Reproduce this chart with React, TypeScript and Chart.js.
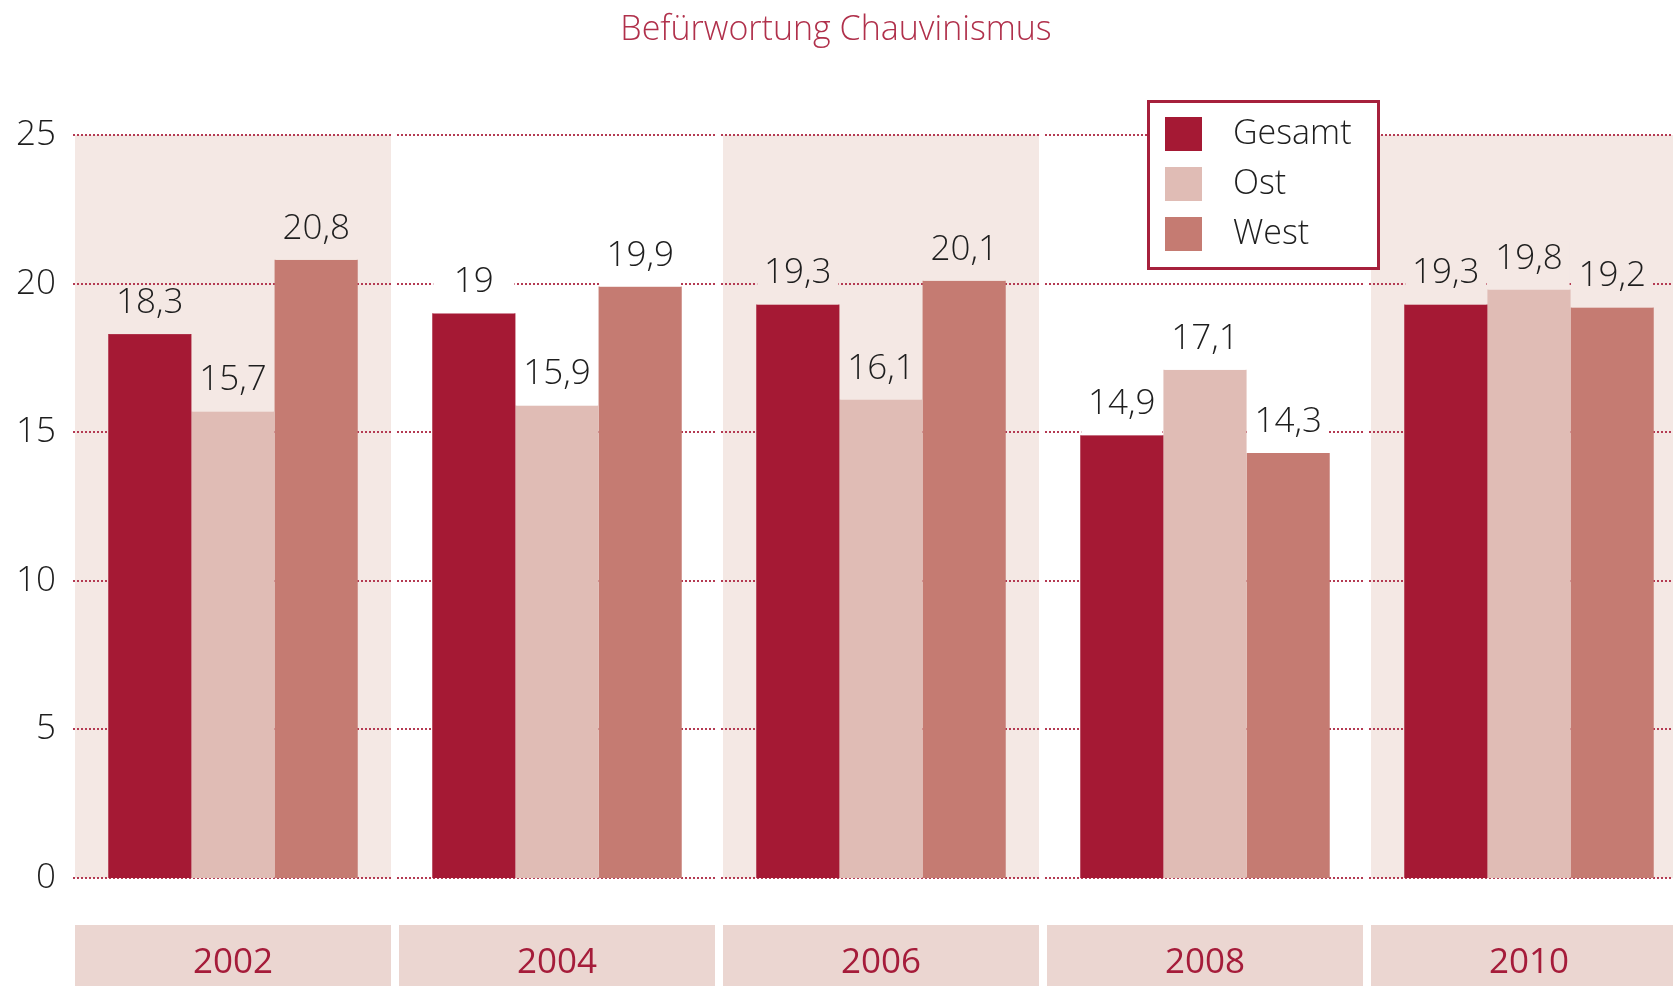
import React, { useEffect, useRef } from 'react';
import { Chart, registerables } from 'chart.js';

Chart.register(...registerables);

const TITLE = 'Befürwortung Chauvinismus';
const years = ['2002', '2004', '2006', '2008', '2010'];
const seriesNames = ['Gesamt', 'Ost', 'West'];
const gesamt = [18.3, 19, 19.3, 14.9, 19.3];
const ost = [15.7, 15.9, 16.1, 17.1, 19.8];
const west = [20.8, 19.9, 20.1, 14.3, 19.2];
const yTicks = [0, 5, 10, 15, 20, 25];
const seriesColors = ['#a51934', '#e0bcb5', '#c57b72'];

const FONT = '"Open Sans", "Noto Sans", sans-serif';
const BAND = '#f4e8e4';
const GRID = '#b43a52';
const CRIMSON = '#a51c3a';
const TEXT = '#1e1e1e';

const fmt = (v: number) => String(v).replace('.', ',');

const decor = {
  id: 'decor',
  beforeDatasetsDraw(chart: any) {
    const { ctx, chartArea, scales } = chart;
    const x = scales.x;
    const y = scales.y;
    const n = years.length;
    const catW = (chartArea.right - chartArea.left) / n;
    const top = y.getPixelForValue(yTicks[yTicks.length - 1]);
    const bottom = y.getPixelForValue(0);
    ctx.save();
    for (let i = 0; i < n; i++) {
      if (i % 2 !== 0) continue;
      const c = x.getPixelForValue(i);
      ctx.fillStyle = BAND;
      ctx.fillRect(c - catW / 2 + 4, top, catW - 8, bottom - top);
    }
    ctx.strokeStyle = GRID;
    ctx.lineWidth = 2;
    ctx.setLineDash([2, 2]);
    for (const t of yTicks) {
      const py = Math.round(y.getPixelForValue(t));
      for (let i = 0; i < n; i++) {
        const c = x.getPixelForValue(i);
        ctx.beginPath();
        ctx.moveTo(c - catW / 2 + 2, py);
        ctx.lineTo(c + catW / 2 - 3, py);
        ctx.stroke();
      }
    }
    ctx.restore();
  },
  afterDatasetsDraw(chart: any) {
    const { ctx } = chart;
    ctx.save();
    chart.data.datasets.forEach((ds: any, di: number) => {
      const meta = chart.getDatasetMeta(di);
      meta.data.forEach((bar: any, i: number) => {
        const v = ds.data[i];
        const p = bar.getProps(['x', 'y', 'width'], true);
        const base = p.y - 21;
        ctx.fillStyle = i % 2 === 0 ? BAND : '#ffffff';
        ctx.fillRect(p.x - p.width / 2 + 1, base - 27, p.width - 2, p.y - (base - 27));
        ctx.fillStyle = TEXT;
        ctx.font = `300 35px ${FONT}`;
        ctx.textAlign = 'center';
        ctx.textBaseline = 'alphabetic';
        ctx.fillText(fmt(v), p.x, base);
      });
    });
    ctx.restore();
  },
  afterDraw(chart: any) {
    const { ctx, chartArea, scales } = chart;
    const x = scales.x;
    const n = years.length;
    const catW = (chartArea.right - chartArea.left) / n;
    ctx.save();
    // title
    ctx.fillStyle = '#b0304b';
    ctx.font = `300 34px ${FONT}`;
    ctx.textAlign = 'center';
    ctx.textBaseline = 'alphabetic';
    ctx.fillText(TITLE, 836, 40);
    // year boxes
    for (let i = 0; i < n; i++) {
      const c = x.getPixelForValue(i);
      ctx.fillStyle = '#ebd6d1';
      ctx.fillRect(c - catW / 2 + 4, 925, catW - 8, 80);
      ctx.fillStyle = CRIMSON;
      ctx.font = `35px ${FONT}`;
      ctx.textAlign = 'center';
      ctx.fillText(years[i], c, 973);
    }
    // legend
    const lx = 1147, ly = 100, lw = 233, lh = 170;
    ctx.fillStyle = '#ffffff';
    ctx.fillRect(lx, ly, lw, lh);
    ctx.strokeStyle = '#a6203c';
    ctx.lineWidth = 3;
    ctx.strokeRect(lx + 1.5, ly + 1.5, lw - 3, lh - 3);
    chart.data.datasets.forEach((ds: any, di: number) => {
      const sy = 117 + di * 50;
      ctx.fillStyle = ds.backgroundColor;
      ctx.fillRect(1165, sy, 37, 34);
      ctx.fillStyle = TEXT;
      ctx.font = `300 34px ${FONT}`;
      ctx.textAlign = 'left';
      ctx.textBaseline = 'middle';
      ctx.fillText(ds.label, 1233, sy + 17);
    });
    ctx.restore();
  },
};

export default function App() {
  const ref = useRef<HTMLCanvasElement>(null);
  useEffect(() => {
    if (!ref.current) return;
    const chart = new Chart(ref.current, {
      type: 'bar',
      data: {
        labels: years,
        datasets: [
          { label: seriesNames[0], data: gesamt, backgroundColor: seriesColors[0] },
          { label: seriesNames[1], data: ost, backgroundColor: seriesColors[1] },
          { label: seriesNames[2], data: west, backgroundColor: seriesColors[2] },
        ],
      },
      options: {
        responsive: false,
        animation: false,
        devicePixelRatio: 1,
        datasets: { bar: { barPercentage: 1, categoryPercentage: 0.77 } },
        layout: { padding: { top: 135, bottom: 108, left: 0, right: 9 } },
        plugins: {
          legend: { display: false },
          tooltip: { enabled: false },
          title: { display: false },
        },
        scales: {
          x: { display: false },
          y: {
            min: 0,
            max: 25,
            grid: { display: false, drawTicks: false },
            border: { display: false },
            ticks: {
              stepSize: 5,
              padding: 15,
              color: TEXT,
              font: { family: FONT, size: 35, weight: '300' },
            },
            afterFit: (scale: any) => {
              scale.width = 71;
            },
          },
        },
      },
      plugins: [decor],
    });
    return () => chart.destroy();
  }, []);
  return (
    <div style={{ position: 'fixed', left: 0, top: 0, width: 1673, height: 986, overflow: 'hidden', background: '#fff' }}>
      <canvas ref={ref} width={1700} height={986} style={{ display: 'block' }} />
    </div>
  );
}
